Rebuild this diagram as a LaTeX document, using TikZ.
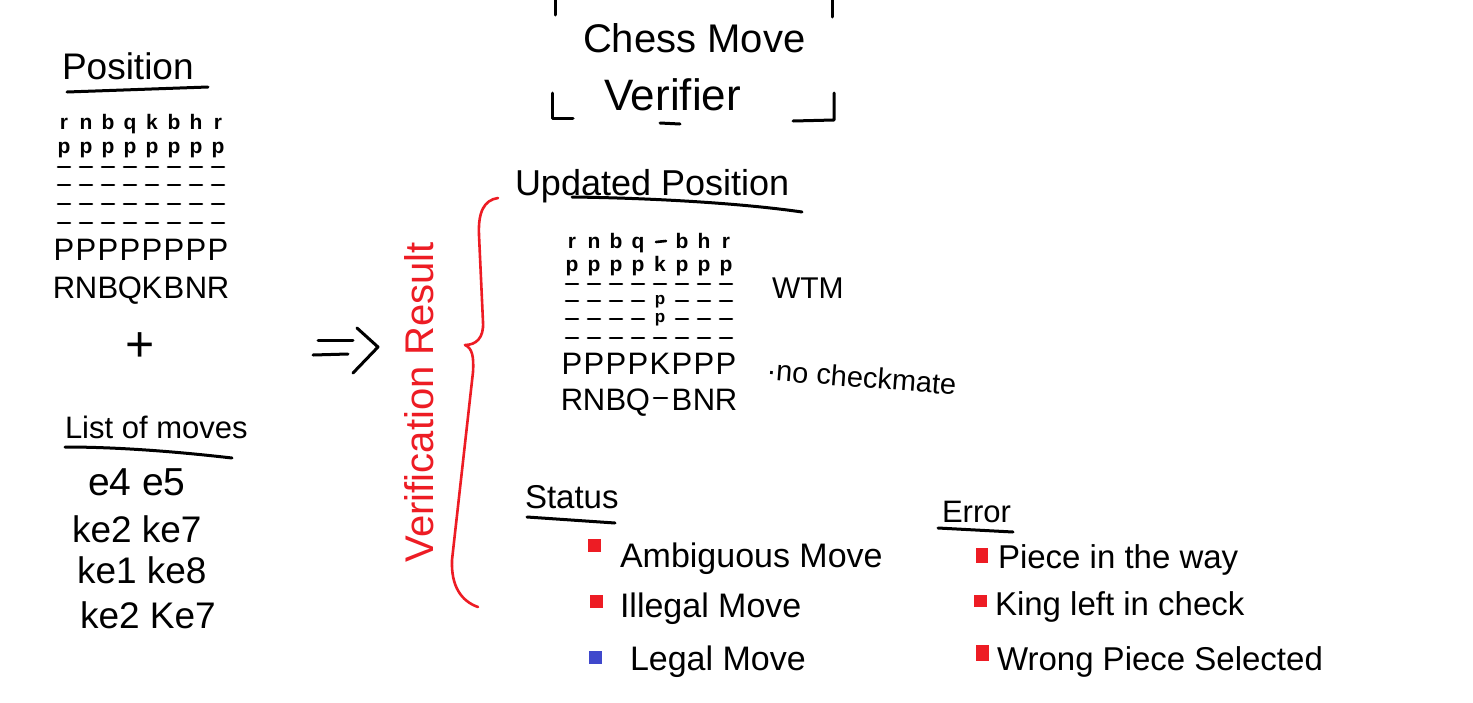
\documentclass[tikz,border=0pt]{standalone}
\usepackage{fontspec}
\setmainfont{Liberation Sans}
\definecolor{pred}{HTML}{ED1C24}
\definecolor{pblue}{HTML}{3F48CC}
\newcommand\myfs[1]{\fontsize{#1}{#1}\selectfont}
\begin{document}
\begin{tikzpicture}[x=1pt,y=-1pt,line cap=round,line join=round,
  ink/.style={line width=3pt,black},
  rink/.style={line width=2.6pt,pred},
  txt/.style={inner sep=0pt,outer sep=0pt,anchor=base west},
  small/.style={inner sep=0pt,outer sep=0pt,anchor=base,font=\myfs{21}\bfseries},
  tiny/.style={inner sep=0pt,outer sep=0pt,anchor=base,font=\myfs{17}\bfseries},
  big/.style={inner sep=0pt,outer sep=0pt,anchor=base,font=\myfs{31}},
  bullet/.style={minimum size=13pt,inner sep=0pt,draw=none},
  dashmark/.style={line width=2.6pt,black}]
\useasboundingbox (0,0) rectangle (1473,702);
\fill[white] (0,0) rectangle (1473,702);

% ---------- Title ----------
\node[txt,font=\myfs{40}] (t1) at (583,52) {Chess Move};
\node[txt,font=\myfs{44}] (t2) at (604,110) {Verifier};
\draw[ink] (555,0) -- (555,15);
\draw[ink] (832,0) -- (832,17);
\draw[ink] (552,93) -- (552,118) -- (573,118);
\draw[ink] (793,121) -- (834,120) -- (834,93);
\draw[ink] (660,123) -- (680,124);

% ---------- Left: Position ----------
\node[txt,font=\myfs{37}] (pos) at (62,79) {Position};
\draw[ink] (67,92) -- (208,87);

\foreach \c [count=\i] in {r,n,b,q,k,b,h,r}
  \node[small] (pa\i) at ({64+22*(\i-1)},129) {\c};
\foreach \i in {1,...,8}
  \node[small] (pb\i) at ({64+22*(\i-1)},153) {p};
\foreach \yy in {167,185,204,223}
  \foreach \i in {1,...,8}
    \draw[dashmark] ({64+22*(\i-1)-6},\yy) -- ++(12,0);
\foreach \i in {1,...,8}
  \node[big] (pg\i) at ({64+22*(\i-1)},260) {P};
\foreach \c [count=\i] in {R,N,B,Q,K,B,N,R}
  \node[big] (ph\i) at ({64+22*(\i-1)},298) {\c};

\node[inner sep=0pt,font=\myfs{50}] (plus) at (140,347) {+};

\node[txt,font=\myfs{31}] (lom) at (65,438) {List of moves};
\draw[ink] (65,447) .. controls (120,447) and (180,452) .. (232,458);
\node[txt,font=\myfs{39}] (m1) at (88,495) {e4 e5};
\node[txt,font=\myfs{37}] (m2) at (72,542) {ke2 ke7};
\node[txt,font=\myfs{37}] (m3) at (77,583) {ke1 ke8};
\node[txt,font=\myfs{37}] (m4) at (80,628) {ke2 Ke7};

% ---------- Arrow ----------
\draw[ink] (318,340) -- (353,340);
\draw[ink] (313,355) -- (348,354);
\draw[ink] (357,328) -- (378,347) -- (353,373);

% ---------- Verification Result ----------
\node[inner sep=0pt,rotate=90,text=pred,font=\myfs{40}] (vr) at (419,402) {Verification Result};
\draw[rink] (498,198) .. controls (484,200) and (478,212) .. (479,235)
  -- (483,322) .. controls (484,338) and (476,345) .. (465,345)
  .. controls (472,348) and (474,356) .. (473,372)
  -- (452,560) .. controls (451,586) and (461,601) .. (478,607);

% ---------- Updated position ----------
\foreach \c [count=\i] in {r,n,b,q}
  \node[small] (qa\i) at ({572+22*(\i-1)},248) {\c};
\foreach \c [count=\i from 6] in {b,h,r}
  \node[small] (qa\i) at ({572+22*(\i-1)},248) {\c};
\draw[dashmark] (656,242) -- (666,241);
\foreach \c [count=\i] in {p,p,p,p,k,p,p,p}
  \node[small] (qb\i) at ({572+22*(\i-1)},271) {\c};
\foreach \yy in {284,338}
  \foreach \i in {1,...,8}
    \draw[dashmark] ({572+22*(\i-1)-6},\yy) -- ++(12,0);
\foreach \yy in {301,319}
  \foreach \i in {1,2,3,4,6,7,8}
    \draw[dashmark] ({572+22*(\i-1)-6},\yy) -- ++(12,0);
\node[tiny] (qd5) at (660,304) {p};
\node[tiny] (qe5) at (660,322) {p};
\foreach \c [count=\i] in {P,P,P,P,K,P,P,P}
  \node[big] (qg\i) at ({572+22*(\i-1)},374) {\c};
\foreach \c [count=\i] in {R,N,B,Q}
  \node[big] (qh\i) at ({572+22*(\i-1)},410) {\c};
\foreach \c [count=\i from 6] in {B,N,R}
  \node[big] (qh\i) at ({572+22*(\i-1)},410) {\c};
\draw[dashmark] (654,398) -- (667,398);

\node[txt,font=\myfs{36}] (upd) at (515,195) {Updated Position};
\draw[ink] (572,197) .. controls (650,198) and (740,203) .. (802,212);

\node[txt,font=\myfs{30}] (wtm) at (772,298) {WTM};
\node[txt,font=\myfs{29},rotate=-4.5] (ncm) at (766,380) {·no checkmate};

% ---------- Status ----------
\node[txt,font=\myfs{33}] (st) at (525,508) {Status};
\draw[ink] (527,517) -- (615,523);
\node[bullet,fill=pred] (s1) at (594,545) {};
\node[txt,font=\myfs{34}] (s1t) at (620,567) {Ambiguous Move};
\node[bullet,fill=pred] (s2) at (596,601) {};
\node[txt,font=\myfs{34}] (s2t) at (620,617) {Illegal Move};
\node[bullet,fill=pblue] (s3) at (595,657) {};
\node[txt,font=\myfs{34}] (s3t) at (630,670) {Legal Move};

% ---------- Error ----------
\node[txt,font=\myfs{31}] (er) at (942,522) {Error};
\draw[ink] (938,528) -- (1013,532);
\node[bullet,fill=pred,minimum width=12pt,minimum height=15pt] (e1) at (982,555) {};
\node[txt,font=\myfs{33}] (e1t) at (998,568) {Piece in the way};
\node[bullet,fill=pred,minimum width=13pt,minimum height=12pt] (e2) at (980,601) {};
\node[txt,font=\myfs{33}] (e2t) at (995,615) {King left in check};
\node[bullet,fill=pred,minimum width=13pt,minimum height=16pt] (e3) at (982,653) {};
\node[txt,font=\myfs{33}] (e3t) at (997,670) {Wrong Piece Selected};
\end{tikzpicture}
\end{document}
